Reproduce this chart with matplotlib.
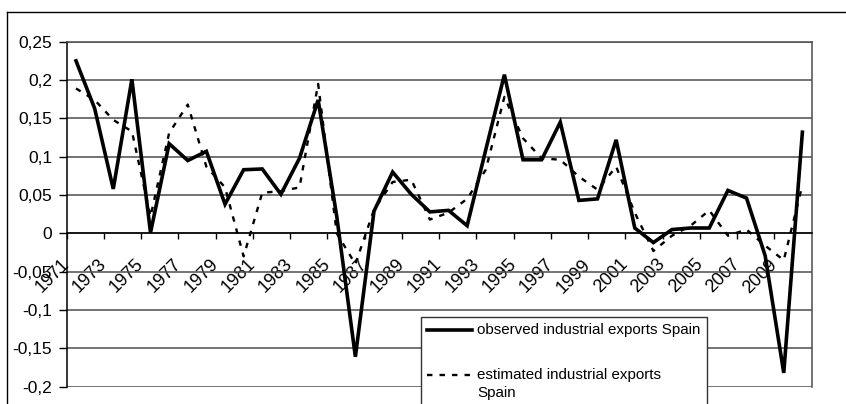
import matplotlib
matplotlib.use("Agg")
import matplotlib.pyplot as plt
from matplotlib.lines import Line2D
from matplotlib.patches import Rectangle
import numpy as np

plt.rcParams['font.family'] = ['Liberation Sans', 'DejaVu Sans']

years = list(range(1971, 2011))
observed = [0.225, 0.163, 0.058, 0.201, 0.001, 0.117, 0.095, 0.107, 0.038, 0.083,
            0.084, 0.051, 0.098, 0.174, 0.022, -0.161, 0.029, 0.080, 0.051, 0.028,
            0.030, 0.010, 0.109, 0.207, 0.096, 0.096, 0.145, 0.043, 0.045, 0.122,
            0.007, -0.012, 0.005, 0.007, 0.007, 0.056, 0.046, -0.029, -0.182, 0.132]
estimated = [0.189, 0.174, 0.148, 0.133, 0.022, 0.131, 0.168, 0.087, 0.060, -0.030,
             0.053, 0.055, 0.060, 0.195, 0.000, -0.040, 0.031, 0.067, 0.070, 0.018,
             0.027, 0.045, 0.083, 0.178, 0.124, 0.098, 0.096, 0.074, 0.057, 0.087,
             0.027, -0.023, -0.003, 0.010, 0.030, -0.003, 0.005, -0.016, -0.035, 0.063]
y_ticks = [-0.2, -0.15, -0.1, -0.05, 0, 0.05, 0.1, 0.15, 0.2, 0.25]
y_tick_labels = ['-0,2', '-0,15', '-0,1', '-0,05', '0', '0,05', '0,1', '0,15', '0,2', '0,25']
x_tick_labels = [str(y) for y in years[::2]]
label_obs = 'observed industrial exports Spain'
label_est_1 = 'estimated industrial exports'
label_est_2 = 'Spain'

W, H = 846, 404
fig = plt.figure(figsize=(W / 100, H / 100), dpi=100)
L, R, T, B = 66.7, 811.7, 41.7, 386.7
ax = fig.add_axes([L / W, 1 - B / H, (R - L) / W, (B - T) / H])

ax.spines['bottom'].set_position(('data', 0))
ax.spines['bottom'].set_color('black')
ax.spines['left'].set_color('black')
ax.spines['right'].set_color('#4d4d4d')
ax.spines['top'].set_color('#4d4d4d')
for s in ax.spines.values():
    s.set_linewidth(1.1)

x = np.arange(len(years))
ax.plot(x, observed, color='black', lw=2.6, solid_joinstyle='miter', zorder=3)
ax.plot(x, estimated, color='black', lw=1.7, linestyle=(0, (2.3, 3.0)), zorder=4)

ax.set_xlim(-0.5, len(years) - 0.5)
ax.set_ylim(-0.2, 0.25)

ax.set_yticks(y_ticks)
ax.set_yticklabels(y_tick_labels, fontsize=12.5)
ax.tick_params(axis='y', direction='out', length=5.5, width=1, pad=5, colors='black')

tick_pos = np.arange(len(years))[::2] - 0.5
ax.set_xticks(tick_pos)
ax.tick_params(axis='x', direction='out', length=4.5, width=1, pad=16)
ax.set_xticklabels(x_tick_labels, fontsize=13, rotation=45, ha='right', va='center',
                   rotation_mode='anchor')

ax.grid(axis='y', color='#4d4d4d', lw=1.1)
ax.set_axisbelow(True)

# outer chart border
fig.add_artist(Line2D([7 / W, 7 / W], [0, 1 - 12 / H], color='black', lw=1.0))
fig.add_artist(Line2D([7 / W, 1], [1 - 12 / H, 1 - 12 / H], color='black', lw=1.0))

# legend box (drawn manually to match Excel layout)
lx0, lx1, ly0 = 420.7, 707.0, 317.3
fig.add_artist(Rectangle((lx0 / W, -0.02), (lx1 - lx0) / W, (1 - ly0 / H) + 0.02,
                         transform=fig.transFigure, facecolor='white',
                         edgecolor='#333333', lw=1.0, zorder=10))
hx0, hx1, tx = 426.7, 471.7, 477.3
fig.add_artist(Line2D([hx0 / W, hx1 / W], [1 - 330 / H] * 2, color='black', lw=2.6, zorder=11))
fig.text(tx / W, 1 - 330 / H, label_obs, fontsize=10.9, va='center', ha='left', zorder=11)
fig.add_artist(Line2D([hx0 / W, hx1 / W], [1 - 375 / H] * 2, color='black', lw=1.7,
                      linestyle=(0, (2.3, 3.0)), zorder=11))
fig.text(tx / W, 1 - 375 / H, label_est_1, fontsize=10.9, va='center', ha='left', zorder=11)
fig.text(tx / W, 1 - 393 / H, label_est_2, fontsize=10.9, va='center', ha='left', zorder=11)

fig.savefig('out.png', dpi=100)
